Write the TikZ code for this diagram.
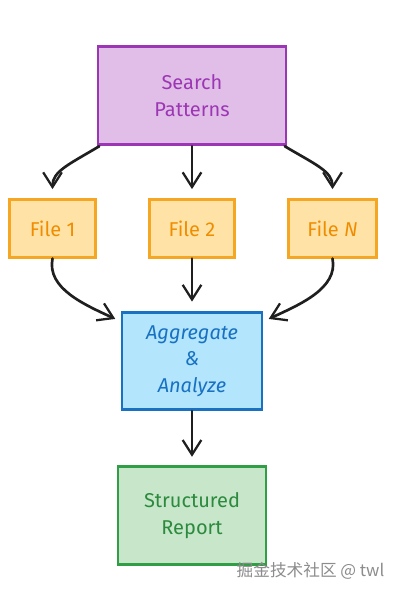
\documentclass[tikz,border=0pt]{standalone}
\usepackage{fontspec}
\setmainfont{Fira Sans}
\newfontfamily\cjk{Noto Sans CJK SC}
\usetikzlibrary{arrows.meta}
\definecolor{pfill}{HTML}{E1BEE7}
\definecolor{pline}{HTML}{9C36B5}
\definecolor{ofill}{HTML}{FFE3A6}
\definecolor{oline}{HTML}{F5A623}
\definecolor{otext}{HTML}{F08C00}
\definecolor{bfill}{HTML}{B3E5FC}
\definecolor{bline}{HTML}{1971C2}
\definecolor{gfill}{HTML}{C8E6C9}
\definecolor{gline}{HTML}{2F9E44}
\definecolor{gtext}{HTML}{2B8A3E}
\tikzset{
  x=0.75pt, y=-0.75pt,
  box/.style={draw, line width=2.1pt, inner sep=0pt, align=center, font=\fontsize{15}{20}\selectfont},
  pbox/.style={box, fill=pfill, draw=pline, text=pline},
  obox/.style={box, fill=ofill, draw=oline, text=otext},
  bbox/.style={box, fill=bfill, draw=bline, text=bline, font=\fontsize{15}{20}\itshape},
  gbox/.style={box, fill=gfill, draw=gline, text=gtext},
  conn/.style={line width=2pt, draw=black!88, line cap=round, -{Straight Barb[length=11pt,width=14pt,line width=1.7pt]}}
}
\begin{document}
\begin{tikzpicture}
\useasboundingbox (0,0) rectangle (402,593);
\node[pbox, minimum width=141pt, minimum height=74pt] (sp) at (192,95.5) {Search\\Patterns};
\node[obox, minimum width=64pt, minimum height=43pt] (f1) at (52.5,228.5) {File 1};
\node[obox, minimum width=64pt, minimum height=43pt] (f2) at (192,228.5) {File 2};
\node[obox, minimum width=66pt, minimum height=43pt] (fn) at (332.5,228.5) {File \textit{N}};
\node[bbox, minimum width=105pt, minimum height=73pt] (ag) at (192,361) {Aggregate\\\&\\Analyze};
\node[gbox, minimum width=111pt, minimum height=74pt] (rp) at (192,515.5) {Structured\\Report};
\node[text=black!45, font=\cjk\fontsize{12.5}{14}\selectfont, anchor=east] (wm) at (389,571) {掘金技术社区 @ twl};

\draw[conn] ([xshift=2pt]sp.south west) .. controls +(-30,18) and +(0,-18) .. ([yshift=7pt]f1.north);
\draw[conn] (sp.south) -- ([yshift=7pt]f2.north);
\draw[conn] ([xshift=-2pt]sp.south east) .. controls +(30,18) and +(0,-18) .. ([yshift=7pt]fn.north);

\draw[conn] (f1.south) .. controls +(-6,30) and +(-30,-14) .. ([xshift=-4pt,yshift=-6pt]ag.north west);
\draw[conn] (f2.south) -- ([yshift=7pt]ag.north);
\draw[conn] (fn.south) .. controls +(6,30) and +(30,-14) .. ([xshift=4pt,yshift=-6pt]ag.north east);

\draw[conn] (ag.south) -- ([yshift=6pt]rp.north);
\end{tikzpicture}
\end{document}
